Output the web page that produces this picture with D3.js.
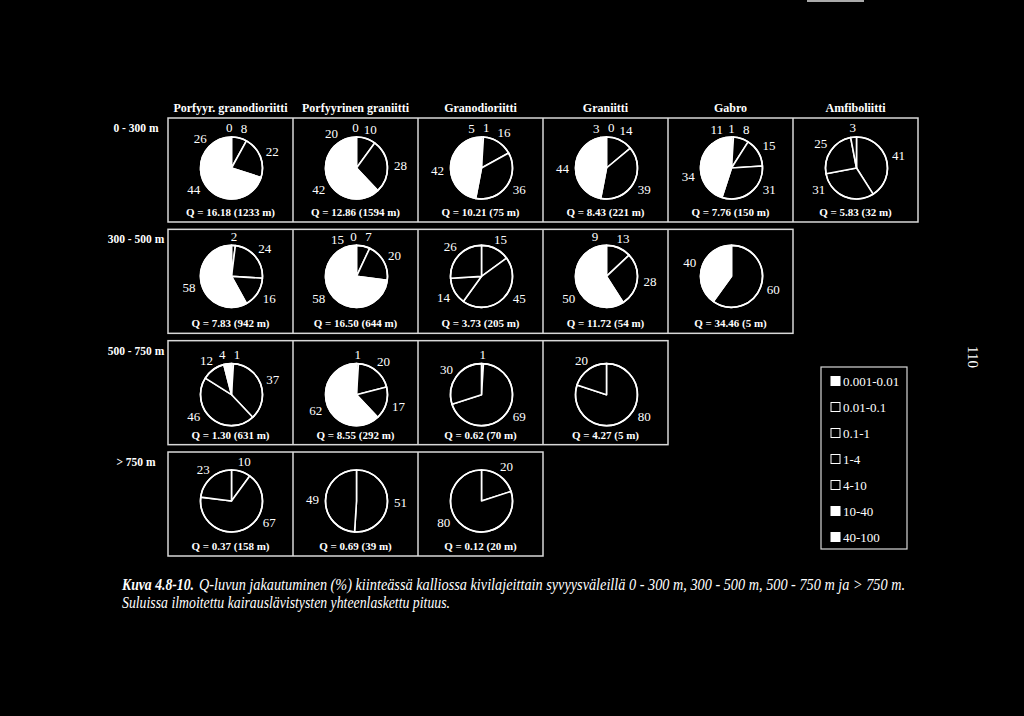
<!DOCTYPE html>
<html>
<head>
<meta charset="utf-8">
<script src="https://cdn.jsdelivr.net/npm/d3@7/dist/d3.min.js"></script>
<style>
  html, body { margin: 0; padding: 0; background: #000; }
  svg { display: block; }
  text { font-family: "Liberation Serif", "Times New Roman", serif; fill: #fff; }
</style>
</head>
<body>
<svg id="chart" width="1024" height="716"></svg>
<script>
// ---------------- DATA ----------------
const categories = ["0.001-0.01", "0.01-0.1", "0.1-1", "1-4", "4-10", "10-40", "40-100"];
const categoryFilled = [true, false, false, false, false, true, true];

const rocks = ["Porfyyr. granodioriitti", "Porfyyrinen graniitti", "Granodioriitti", "Graniitti", "Gabro", "Amfiboliitti"];
const depths = ["0 - 300 m", "300 - 500 m", "500 - 750 m", "> 750 m"];

// percentage per category (null = class not present), one row per rock type
const values0_300 = [
  [null, null, 0, 8, 22, 44, 26],
  [null, null, 0, 10, 28, 42, 20],
  [null, null, 1, 16, 36, 42, 5],
  [null, null, 0, 14, 39, 44, 3],
  [null, 1, 8, 15, 31, 34, 11],
  [null, 41, 31, 25, 3, null, null]
];
const values300_500 = [
  [null, null, 2, 24, 16, 58, null],
  [null, null, 0, 7, 20, 58, 15],
  [null, 15, 45, 14, 26, null, null],
  [null, null, null, 13, 28, 50, 9],
  [null, null, null, null, 60, 40, null]
];
const values500_750 = [
  [null, 1, 37, 46, 12, 4, null],
  [null, null, 1, 20, 17, 62, null],
  [null, 1, 69, 30, null, null, null],
  [null, null, null, 80, 20, null, null]
];
const values750 = [
  [null, 10, 67, 23, null, null, null],
  [null, 51, 49, null, null, null, null],
  [null, 20, 80, null, null, null, null]
];

const qValues = [
  [16.18, 12.86, 10.21, 8.43, 7.76, 5.83],
  [7.83, 16.50, 3.73, 11.72, 34.46],
  [1.30, 8.55, 0.62, 4.27],
  [0.37, 0.69, 0.12]
];
const drillLengths = [
  [1233, 1594, 75, 221, 150, 32],
  [942, 644, 205, 54, 5],
  [631, 292, 70, 5],
  [158, 39, 20]
];

const captionBold = "Kuva 4.8-10.";
const captionLine1 = "Q-luvun jakautuminen (%) kiinteässä kalliossa kivilajeittain syvyysväleillä 0 - 300 m, 300 - 500 m, 500 - 750 m ja > 750 m.";
const captionLine2 = "Suluissa ilmoitettu kairauslävistysten yhteenlaskettu pituus.";
const pageNumber = "110";

// ---------------- LAYOUT ----------------
const valuesByDepth = [values0_300, values300_500, values500_750, values750];
const svg = d3.select("#chart");
svg.append("rect").attr("width", 1024).attr("height", 716).attr("fill", "#000");

const col = d3.scaleBand().domain(rocks).range([168, 918]);
const row = d3.scaleBand().domain(depths).range([118, 556]).paddingInner(0.066).paddingOuter(0);
const cw = col.bandwidth();
const rh = row.bandwidth();
const pieOffset = [50, 47, 54, 49];
const R = 31;
const fillScale = d3.scaleOrdinal().domain(categories).range(categoryFilled.map(f => f ? "#fff" : "#000"));
const labelDist = deg => 40 + 4 * Math.abs(Math.sin(deg * Math.PI / 180));

// small scan mark at the top
svg.append("line").attr("x1", 807).attr("x2", 864).attr("y1", 1).attr("y2", 1)
  .attr("stroke", "#aaa").attr("stroke-width", 2);

// column headers
svg.append("g").selectAll("text").data(rocks).join("text")
  .attr("x", d => col(d) + cw / 2)
  .attr("y", 108)
  .attr("text-anchor", "middle")
  .attr("dominant-baseline", "central")
  .attr("font-weight", "bold")
  .attr("font-size", 12)
  .text(d => d);

// row labels
svg.append("g").selectAll("text").data(depths).join("text")
  .attr("x", 136)
  .attr("y", d => row(d) + 10)
  .attr("text-anchor", "middle")
  .attr("dominant-baseline", "central")
  .attr("font-weight", "bold")
  .attr("font-size", 11.5)
  .text(d => d);

const pie = d3.pie().sort(null).value(d => d.v);
const arc = d3.arc().innerRadius(0).outerRadius(R);

function placeLabels(arcs) {
  let items = arcs.map(a => {
    let deg = (a.startAngle + a.endAngle) / 2 * 180 / Math.PI;
    if (deg > 120 && deg < 240) deg = deg < 180 ? 120 : 240;
    if (deg > 300) deg -= 360;
    return { a, deg };
  });
  items.sort((p, q) => p.deg - q.deg);
  const gap = 21;
  for (let it = 0; it < 20; it++) {
    for (let k = 0; k < items.length - 1; k++) {
      const d = items[k + 1].deg - items[k].deg;
      if (d < gap) {
        const s = (gap - d) / 2;
        items[k].deg -= s;
        items[k + 1].deg += s;
      }
    }
  }
  return items;
}

depths.forEach((depth, i) => {
  const vals = valuesByDepth[i];
  const n = vals.length;
  const top = row(depth);
  const g = svg.append("g");
  const x0 = col(rocks[0]);
  const x1 = col(rocks[n - 1]) + cw;
  g.append("rect").attr("x", x0).attr("y", top).attr("width", x1 - x0).attr("height", rh)
    .attr("fill", "none").attr("stroke", "#d8d8d8").attr("stroke-width", 1.5);
  for (let j = 1; j < n; j++) {
    g.append("line").attr("x1", col(rocks[j])).attr("x2", col(rocks[j]))
      .attr("y1", top).attr("y2", top + rh)
      .attr("stroke", "#d8d8d8").attr("stroke-width", 1.5);
  }
  vals.forEach((v, j) => {
    const cx = col(rocks[j]) + cw / 2 + 1;
    const cy = top + pieOffset[i];
    const entries = v.map((val, k) => ({ cat: categories[k], v: val })).filter(d => d.v !== null);
    const arcs = pie(entries);
    const pg = g.append("g").attr("transform", `translate(${cx},${cy})`);
    pg.append("circle").attr("r", R).attr("fill", "#000");
    pg.selectAll("path").data(arcs).join("path")
      .attr("d", arc)
      .attr("fill", d => fillScale(d.data.cat))
      .attr("stroke", "#fff")
      .attr("stroke-width", 1.6)
      .attr("stroke-linejoin", "round");
    pg.append("circle").attr("r", R).attr("fill", "none").attr("stroke", "#fff").attr("stroke-width", 1.6);
    const labels = placeLabels(arcs);
    pg.selectAll("text").data(labels).join("text")
      .attr("x", d => labelDist(d.deg) * Math.sin(d.deg * Math.PI / 180))
      .attr("y", d => -labelDist(d.deg) * Math.cos(d.deg * Math.PI / 180))
      .attr("text-anchor", "middle")
      .attr("dominant-baseline", "central")
      .attr("font-size", 13)
      .text(d => d.a.data.v);
    g.append("text")
      .attr("x", col(rocks[j]) + cw / 2)
      .attr("y", top + 94)
      .attr("text-anchor", "middle")
      .attr("dominant-baseline", "central")
      .attr("font-weight", "bold")
      .attr("font-size", 11)
      .text(`Q = ${qValues[i][j].toFixed(2)} (${drillLengths[i][j]} m)`);
  });
});

// legend
const lg = svg.append("g");
lg.append("rect").attr("x", 821).attr("y", 367).attr("width", 86).attr("height", 182)
  .attr("fill", "none").attr("stroke", "#d8d8d8").attr("stroke-width", 1.2);
const ly = d3.scalePoint().domain(categories).range([381, 537]);
lg.selectAll("rect.sw").data(categories).join("rect").attr("class", "sw")
  .attr("x", 831).attr("y", d => ly(d) - 4.5).attr("width", 9).attr("height", 9)
  .attr("fill", (d, k) => categoryFilled[k] ? "#fff" : "#000")
  .attr("stroke", "#fff").attr("stroke-width", 1);
lg.selectAll("text").data(categories).join("text")
  .attr("x", 843).attr("y", d => ly(d))
  .attr("dominant-baseline", "central")
  .attr("font-size", 13)
  .text(d => d);

// page number
svg.append("text")
  .attr("transform", "translate(973,357) rotate(90)")
  .attr("text-anchor", "middle")
  .attr("dominant-baseline", "central")
  .attr("font-size", 15)
  .text(pageNumber);

// caption
svg.append("text").attr("x", 122).attr("y", 590).attr("font-size", 16)
  .attr("font-style", "italic").attr("font-weight", "bold")
  .attr("textLength", 72).attr("lengthAdjust", "spacingAndGlyphs")
  .text(captionBold);
svg.append("text").attr("x", 199).attr("y", 590).attr("font-size", 16)
  .attr("font-style", "italic")
  .attr("textLength", 706).attr("lengthAdjust", "spacingAndGlyphs")
  .text(captionLine1);
svg.append("text").attr("x", 122).attr("y", 608).attr("font-size", 16)
  .attr("font-style", "italic").attr("textLength", 328).attr("lengthAdjust", "spacingAndGlyphs")
  .text(captionLine2);
</script>
</body>
</html>
